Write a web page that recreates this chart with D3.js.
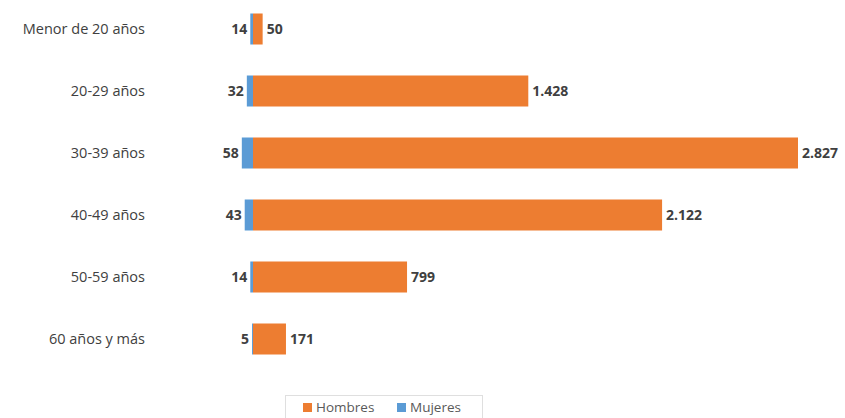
<!DOCTYPE html>
<html>
<head>
<meta charset="utf-8">
<script src="https://cdn.jsdelivr.net/npm/d3@7"></script>
<style>
  body { margin: 0; background: #fff; }
  svg { display: block; font-family: "Open Sans", "Liberation Sans", sans-serif; }
  .cat-label { font-size: 14.5px; fill: #404040; }
  .val-label { font-size: 14px; font-weight: bold; fill: #404040; }
  .legend-text { font-size: 13.5px; fill: #595959; }
</style>
</head>
<body>
<svg width="845" height="418"></svg>
<script>
const categories = ["Menor de 20 años", "20-29 años", "30-39 años", "40-49 años", "50-59 años", "60 años y más"];
const hombres = [50, 1428, 2827, 2122, 799, 171];
const mujeres = [14, 32, 58, 43, 14, 5];
const hombresLabels = ["50", "1.428", "2.827", "2.122", "799", "171"];
const mujeresLabels = ["14", "32", "58", "43", "14", "5"];

const colorHombres = "#ED7D31";
const colorMujeres = "#5B9BD5";

let svg = d3.select("svg");

let rows = categories.map(function(c, i) {
    return {cat: c, h: hombres[i], m: mujeres[i], hl: hombresLabels[i], ml: mujeresLabels[i]};
});

let x = d3.scaleLinear()
    .domain([0, d3.max(hombres)])
    .range([253, 798]);

let y = d3.scaleBand()
    .domain(categories)
    .range([13.5, 354.5])
    .paddingInner(0.5)
    .paddingOuter(0);

// mujeres to the left of zero
svg.selectAll(".bar-m")
    .data(rows)
    .enter()
    .append("rect")
    .attr("class", "bar-m")
    .attr("x", function(d) { return x(0) - (x(d.m) - x(0)); })
    .attr("y", function(d) { return y(d.cat); })
    .attr("width", function(d) { return x(d.m) - x(0); })
    .attr("height", y.bandwidth())
    .attr("fill", colorMujeres);

svg.selectAll(".bar-h")
    .data(rows)
    .enter()
    .append("rect")
    .attr("class", "bar-h")
    .attr("x", x(0))
    .attr("y", function(d) { return y(d.cat); })
    .attr("width", function(d) { return x(d.h) - x(0); })
    .attr("height", y.bandwidth())
    .attr("fill", colorHombres);

// category labels
svg.selectAll(".cat-label")
    .data(rows)
    .enter()
    .append("text")
    .attr("class", "cat-label")
    .attr("x", 145)
    .attr("y", function(d) { return y(d.cat) + y.bandwidth() / 2; })
    .attr("dy", "0.35em")
    .attr("text-anchor", "end")
    .text(function(d) { return d.cat; });

svg.selectAll(".val-m")
    .data(rows)
    .enter()
    .append("text")
    .attr("class", "val-label val-m")
    .attr("x", function(d) { return x(0) - (x(d.m) - x(0)) - 3; })
    .attr("y", function(d) { return y(d.cat) + y.bandwidth() / 2; })
    .attr("dy", "0.35em")
    .attr("text-anchor", "end")
    .text(function(d) { return d.ml; });

svg.selectAll(".val-h")
    .data(rows)
    .enter()
    .append("text")
    .attr("class", "val-label val-h")
    .attr("x", function(d) { return x(d.h) + 4; })
    .attr("y", function(d) { return y(d.cat) + y.bandwidth() / 2; })
    .attr("dy", "0.35em")
    .text(function(d) { return d.hl; });

// legend
let legend = svg.append("g")
    .attr("transform", "translate(285,395)");

legend.append("rect")
    .attr("x", 0.5)
    .attr("y", 0.5)
    .attr("width", 197)
    .attr("height", 26)
    .attr("fill", "none")
    .attr("stroke", "#BFBFBF")
    .attr("stroke-dasharray", "1,1");

let legendItems = [
    {name: "Hombres", color: colorHombres, x: 18},
    {name: "Mujeres", color: colorMujeres, x: 112}
];

legendItems.forEach(function(item) {
    legend.append("rect")
        .attr("x", item.x)
        .attr("y", 8)
        .attr("width", 9)
        .attr("height", 9)
        .attr("fill", item.color);
    legend.append("text")
        .attr("class", "legend-text")
        .attr("x", item.x + 13)
        .attr("y", 12.5)
        .attr("dy", "0.35em")
        .text(item.name);
});
</script>
</body>
</html>
